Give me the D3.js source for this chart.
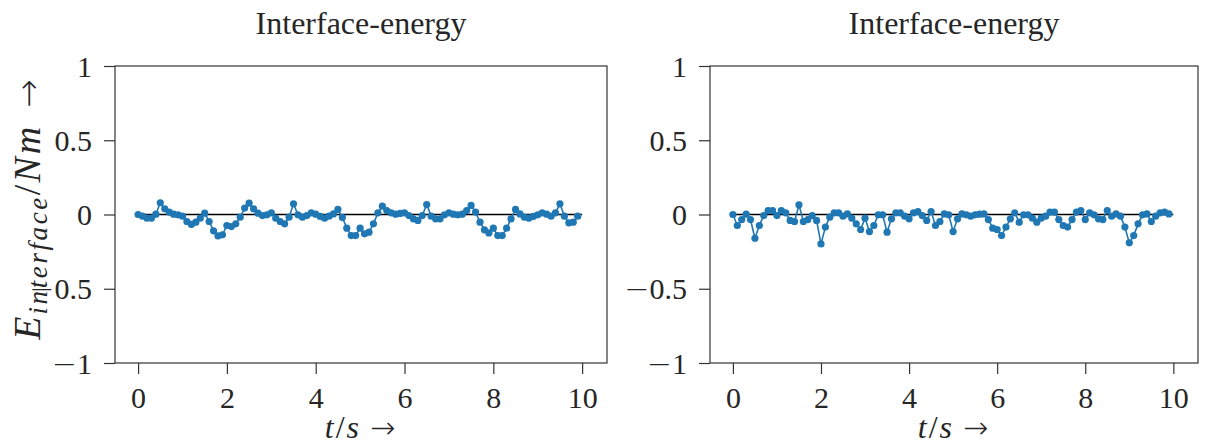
<!DOCTYPE html>
<html>
<head>
<meta charset="utf-8">
<script src="https://cdn.jsdelivr.net/npm/d3@7"></script>
<style>
  html, body { margin: 0; padding: 0; background: #ffffff; }
  svg { display: block; }
  text { fill: #262626; }
</style>
</head>
<body>
<svg id="chart" width="1206" height="446"></svg>
<script>
// Sample times (s)
const timeSteps = [
  0.0, 0.1, 0.2, 0.3, 0.4, 0.5, 0.6, 0.7, 0.8, 0.9,
  1.0, 1.1, 1.2, 1.3, 1.4, 1.5, 1.6, 1.7, 1.8, 1.9,
  2.0, 2.1, 2.2, 2.3, 2.4, 2.5, 2.6, 2.7, 2.8, 2.9,
  3.0, 3.1, 3.2, 3.3, 3.4, 3.5, 3.6, 3.7, 3.8, 3.9,
  4.0, 4.1, 4.2, 4.3, 4.4, 4.5, 4.6, 4.7, 4.8, 4.9,
  5.0, 5.1, 5.2, 5.3, 5.4, 5.5, 5.6, 5.7, 5.8, 5.9,
  6.0, 6.1, 6.2, 6.3, 6.4, 6.5, 6.6, 6.7, 6.8, 6.9,
  7.0, 7.1, 7.2, 7.3, 7.4, 7.5, 7.6, 7.7, 7.8, 7.9,
  8.0, 8.1, 8.2, 8.3, 8.4, 8.5, 8.6, 8.7, 8.8, 8.9,
  9.0, 9.1, 9.2, 9.3, 9.4, 9.5, 9.6, 9.7, 9.8, 9.9
];

// Interface energy, first run (Nm)
const energyLeft = [
  0.000, -0.011, -0.025, -0.025, 0.002, 0.079, 0.038, 0.016, 0.002, -0.002,
  -0.011, -0.047, -0.067, -0.052, -0.025, 0.009, -0.047, -0.110, -0.144, -0.137,
  -0.074, -0.081, -0.063, -0.018, 0.043, 0.076, 0.038, 0.009, -0.007, -0.002,
  0.011, -0.025, -0.047, -0.063, -0.018, 0.072, -0.002, -0.018, -0.007, 0.011,
  0.002, -0.013, -0.025, -0.011, 0.004, 0.034, -0.020, -0.092, -0.142, -0.142,
  -0.092, -0.130, -0.119, -0.063, 0.011, 0.056, 0.027, 0.011, 0.002, 0.007,
  0.011, -0.007, -0.029, -0.040, -0.007, 0.067, -0.011, -0.029, -0.029, -0.002,
  0.011, 0.002, -0.002, 0.002, 0.027, 0.061, 0.016, -0.052, -0.103, -0.124,
  -0.092, -0.142, -0.142, -0.092, -0.029, 0.034, 0.004, -0.018, -0.025, -0.013,
  -0.002, 0.011, 0.002, -0.011, 0.011, 0.072, -0.011, -0.056, -0.052, -0.011
];

// Interface energy, second run (Nm)
const energyRight = [
  0.000, -0.074, -0.034, 0.002, -0.034, -0.160, -0.074, -0.007, 0.027, 0.027,
  -0.007, 0.027, 0.011, -0.040, -0.047, 0.065, -0.047, -0.034, -0.007, -0.040,
  -0.198, -0.085, -0.018, 0.011, 0.011, -0.011, 0.004, -0.025, -0.063, -0.101,
  -0.025, -0.115, -0.074, -0.002, -0.002, -0.119, -0.029, 0.011, 0.011, -0.011,
  -0.029, 0.011, 0.020, -0.007, -0.040, 0.020, -0.074, -0.047, 0.004, -0.002,
  -0.115, -0.029, 0.004, -0.002, -0.011, -0.002, 0.002, 0.004, -0.034, -0.092,
  -0.101, -0.142, -0.085, -0.029, 0.011, -0.052, -0.002, -0.002, -0.025, -0.052,
  -0.025, -0.011, 0.016, 0.016, -0.034, -0.074, -0.085, -0.034, 0.016, 0.027,
  -0.034, 0.011, -0.002, -0.029, -0.034, 0.027, -0.011, 0.004, -0.011, -0.085,
  -0.191, -0.142, -0.063, -0.002, 0.004, -0.047, -0.011, 0.011, 0.016, 0.004
];

const xTicks = [0, 2, 4, 6, 8, 10];
const yTicks = [-1, -0.5, 0, 0.5, 1];
const panelTitles = ["Interface-energy", "Interface-energy"];

const svg = d3.select("#chart");
const serif = "'Liberation Serif', 'Times New Roman', serif";
const symbolFont = "'DejaVu Sans', sans-serif";
const lineBlue = "#1f77b4";
const axisGrey = "#333333";
const tickFont = 30;

const panels = [
  { left: 115, right: 607, values: energyLeft, title: panelTitles[0], yLabel: true },
  { left: 710, right: 1198, values: energyRight, title: panelTitles[1], yLabel: false }
];
const plotTop = 66, plotBottom = 363;

// tick label with a wide, math-style minus sign
function styleTickLabel(sel) {
  sel.each(function (d) {
    const t = d3.select(this).text("");
    if (d < 0) {
      t.append("tspan").attr("font-family", symbolFont).attr("font-weight", 300)
        .text("\u2212");
    }
    t.append("tspan").text(String(Math.abs(d)));
  });
}

panels.forEach(p => {
  const x = d3.scaleLinear().domain([-0.52, 10.56]).range([p.left, p.right]);
  const y = d3.scaleLinear().domain([-1, 1]).range([plotBottom, plotTop]);
  const g = svg.append("g");

  // reference line at zero
  g.append("line")
    .attr("x1", x(0)).attr("x2", x(10))
    .attr("y1", y(0)).attr("y2", y(0))
    .attr("stroke", "#000").attr("stroke-width", 1.5);

  // frame
  g.append("rect")
    .attr("x", p.left).attr("y", plotTop)
    .attr("width", p.right - p.left).attr("height", plotBottom - plotTop)
    .attr("fill", "none").attr("stroke", axisGrey).attr("stroke-width", 1.2);

  // axes
  const xAxis = d3.axisBottom(x).tickValues(xTicks).tickSize(11).tickPadding(13);
  const yAxis = d3.axisLeft(y).tickValues(yTicks).tickSize(11).tickPadding(12);

  const gx = g.append("g").attr("transform", `translate(0,${plotBottom})`).call(xAxis);
  const gy = g.append("g").attr("transform", `translate(${p.left},0)`).call(yAxis);
  [gx, gy].forEach(a => {
    a.select(".domain").remove();
    a.selectAll(".tick line").attr("stroke", axisGrey).attr("stroke-width", 1.2);
    a.selectAll(".tick text")
      .attr("font-family", serif).attr("font-size", tickFont).attr("fill", "#262626")
      .call(styleTickLabel);
  });
  gy.selectAll(".tick text").attr("dy", "0.34em");

  // series
  const line = d3.line().x((d, i) => x(timeSteps[i])).y(d => y(d));
  g.append("path").datum(p.values)
    .attr("d", line).attr("fill", "none")
    .attr("stroke", lineBlue).attr("stroke-width", 1.6);
  g.selectAll("circle.pt").data(p.values).join("circle")
    .attr("class", "pt")
    .attr("cx", (d, i) => x(timeSteps[i])).attr("cy", d => y(d))
    .attr("r", 3.6).attr("fill", lineBlue);

  // title
  g.append("text")
    .attr("x", (p.left + p.right) / 2).attr("y", 34)
    .attr("text-anchor", "middle")
    .attr("font-family", serif).attr("font-size", 32)
    .text(p.title);

  // x label: t/s →
  const xl = g.append("text")
    .attr("x", (p.left + p.right) / 2).attr("y", 438)
    .attr("text-anchor", "middle")
    .attr("font-family", serif).attr("font-size", 32)
    .attr("letter-spacing", 2);
  xl.append("tspan").attr("font-style", "italic").text("t");
  xl.append("tspan").text("/");
  xl.append("tspan").attr("font-style", "italic").text("s");
  xl.append("tspan").attr("dx", 9).attr("font-family", symbolFont)
    .attr("font-weight", 300).attr("font-size", 30).text("\u2192");

  if (p.yLabel) {
    const yl = g.append("text")
      .attr("transform", `translate(40,${(plotTop + plotBottom) / 2 - 6}) rotate(-90)`)
      .attr("text-anchor", "middle")
      .attr("font-family", serif).attr("font-size", 38)
      .attr("letter-spacing", 2);
    yl.append("tspan").attr("font-style", "italic").text("E");
    yl.append("tspan").attr("font-style", "italic").attr("font-size", 27)
      .attr("letter-spacing", 2.6).attr("dy", 7).text("interface");
    yl.append("tspan").attr("dy", -7).text("/");
    yl.append("tspan").attr("font-style", "italic").attr("letter-spacing", 3).text("Nm");
    yl.append("tspan").attr("dx", 16).attr("font-family", symbolFont)
      .attr("font-weight", 300).attr("font-size", 34).text("\u2192");
  }
});
</script>
</body>
</html>
